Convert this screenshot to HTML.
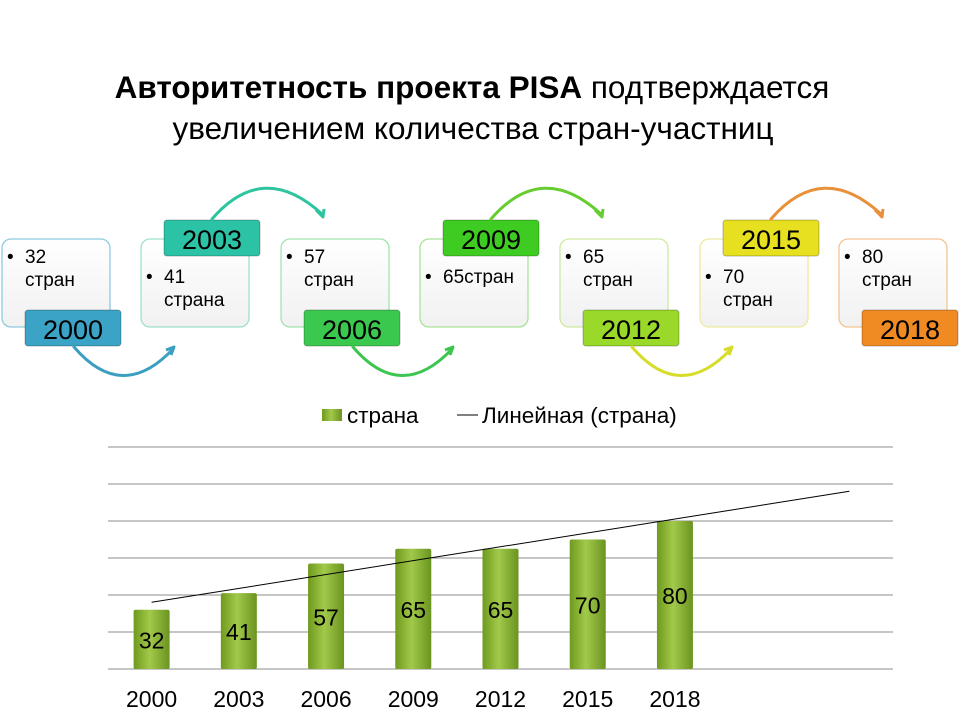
<!DOCTYPE html>
<html><head><meta charset="utf-8"><style>
body{margin:0;background:#fff;width:960px;height:720px;overflow:hidden;font-family:"Liberation Sans",Arial,sans-serif}
svg{display:block}
</style></head><body>
<svg id="s" width="960" height="720" viewBox="0 0 960 720" font-family="Liberation Sans, Arial, sans-serif">
<defs>
<linearGradient id="barg" x1="0" x2="1" y1="0" y2="0">
<stop offset="0" stop-color="#6f9a1e"/><stop offset="0.45" stop-color="#a2c94a"/><stop offset="1" stop-color="#6a9420"/>
</linearGradient>
<linearGradient id="boxg" x1="0" x2="0" y1="0" y2="1"><stop offset="0" stop-color="#ffffff"/><stop offset="1" stop-color="#f1f1f1"/></linearGradient>
</defs>
<text x="472" y="98" text-anchor="middle" font-size="31.5"><tspan font-weight="bold">Авторитетность проекта PISA</tspan> подтверждается</text>
<text x="473" y="139" text-anchor="middle" font-size="31.5">увеличением количества стран-участниц</text>
<g id="timeline"></g>
<g id="chart"></g>
</svg>
<script>
const NS='http://www.w3.org/2000/svg';
function mk(tag,attrs,parent,txt){const e=document.createElementNS(NS,tag);for(const k in attrs)e.setAttribute(k,attrs[k]);if(txt!==undefined)e.textContent=txt;parent.appendChild(e);return e;}
// timeline
const tlYears=['2000','2003','2006','2009','2012','2015','2018'];
const tlLine1=['32','41','57','65стран','65','70','80'];
const tlLine2=['стран','страна','стран','','стран','стран','стран'];
const tlColors=['#3aa3c6','#2cc2a6','#3bc84e','#3fcc22','#9ad82a','#e6e020','#f08a22'];
const arrowColors=['#3a9fc0','#2ec4a0','#3cc650','#66cc30','#d6dc28','#e8903a'];
const tlBorders=['#8ccbe0','#9fe0cf','#a4e3ab','#a8e39a','#cfe9a0','#eeeaa0','#f5c494'];
const tl=document.getElementById('timeline');
tlYears.forEach((y,i)=>{
  const bx=[2,141,281,420,560,700,839][i];
  const g=mk('g',{},tl);
  
  
  const r=mk('rect',{x:bx,y:239,width:108,height:88,rx:9,fill:'url(#boxg)',stroke:tlBorders[i],'stroke-width':1.3},g);
  
  const odd=i%2===1;
  const ty=odd?283:263;
  const t1=mk('text',{x:bx+5,y:ty,'font-size':19},g,'•');
  
  const t2=mk('text',{x:bx+23,y:ty,'font-size':19},g,tlLine1[i]);
  
  if(tlLine2[i]){const t3=mk('text',{x:bx+23,y:ty+23,'font-size':19},g,tlLine2[i]);}
  const tyy=odd?220:310;
  const tag=mk('rect',{x:bx+23,y:tyy,width:96,height:36,rx:3,fill:tlColors[i],stroke:'rgba(0,0,0,0.25)','stroke-width':1},g);
  
  const tt=mk('text',{x:bx+71,y:tyy+29,'text-anchor':'middle','font-size':27},g,y);
  
  if(i<6){
    let path;
    if(odd) path=`M${bx+71},219 Q${bx+122},160 ${bx+181},214`;
    else path=`M${bx+72},347 Q${bx+120},403 ${bx+171},349`;
    const a=mk('path',{d:path,fill:'none',stroke:arrowColors[i],'stroke-width':3,'stroke-linecap':'round'},g);
    
    const ex=odd?bx+181:bx+171, ey=odd?214:349;
    const head=odd?`M${ex-6},${ey-4} L${ex+1},${ey+3} L${ex+2},${ey-5}`:`M${ex-7},${ey+1} L${ex+1},${ey-2} L${ex-2},${ey+6}`;
    const h=mk('path',{d:head,fill:'none',stroke:arrowColors[i],'stroke-width':3,'stroke-linejoin':'round'},g);
    
  }
});
// chart data
const categories=['2000','2003','2006','2009','2012','2015','2018'];
const values=[32,41,57,65,65,70,80];
const yTicks=[0,20,40,60,80,100,120];
const forecastPeriods=2;
const ch=document.getElementById('chart');
const x0=108,x1=893,yBase=669,yTop=447,yMax=120;
const slots=categories.length+forecastPeriods;
const slotW=(x1-x0)/slots;
const X=i=>x0+slotW*(i+0.5);
const Y=v=>yBase-(v/yMax)*(yBase-yTop);
yTicks.forEach(t=>{const l=mk('line',{x1:x0,x2:x1,y1:Y(t),y2:Y(t),stroke:'#8c8c8c','stroke-width':1},ch);});
const bw=36;
values.forEach((v,i)=>{
  const b=mk('rect',{x:X(i)-bw/2,y:Y(v),width:bw,height:yBase-Y(v),fill:'url(#barg)',rx:2},ch);
  
  const t=mk('text',{x:X(i),y:(Y(v)+yBase)/2+9,'text-anchor':'middle','font-size':23},ch,String(v));
  
  const c=mk('text',{x:X(i),y:707,'text-anchor':'middle','font-size':23},ch,categories[i]);
  
});
// linear trend
const n=values.length;let sx=0,sy=0,sxy=0,sxx=0;
values.forEach((v,i)=>{const xx=i+1;sx+=xx;sy+=v;sxy+=xx*v;sxx+=xx*xx;});
const slope=(n*sxy-sx*sy)/(n*sxx-sx*sx),icpt=(sy-slope*sx)/n;
const tr=mk('line',{x1:X(0),y1:Y(icpt+slope*1),x2:X(n-1+forecastPeriods),y2:Y(icpt+slope*(n+forecastPeriods)),stroke:'#000','stroke-width':1},ch);

// legend
const lg=mk('g',{},ch);
const ls=mk('rect',{x:322,y:409,width:20,height:12,fill:'url(#barg)'},lg);
const lt=mk('text',{x:347,y:423,'font-size':22.5},lg,'страна');
const ll=mk('line',{x1:457,x2:478,y1:415,y2:415,stroke:'#000','stroke-width':1},lg);
const lt2=mk('text',{x:482,y:423,'font-size':22.5},lg,'Линейная (страна)');
</script>
</body></html>
